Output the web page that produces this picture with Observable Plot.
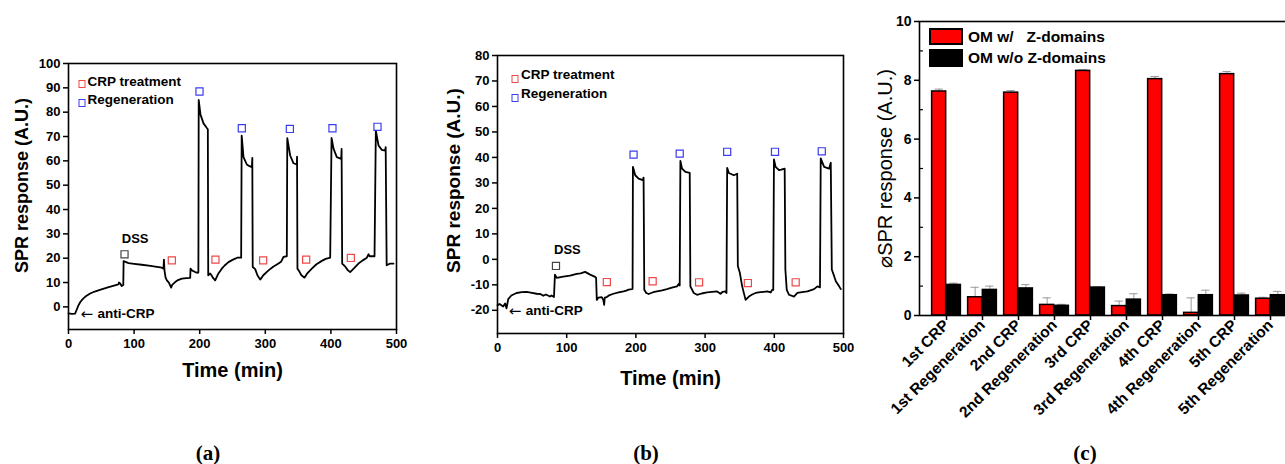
<!DOCTYPE html>
<html><head><meta charset="utf-8">
<script src="https://cdn.jsdelivr.net/npm/d3@7"></script>
<script src="https://cdn.jsdelivr.net/npm/@observablehq/plot@0.6"></script>
<style>
body{margin:0;background:#fff;overflow:hidden;font-family:"Liberation Sans",Arial,sans-serif;}
#wrap{position:relative;width:1285px;height:464px;overflow:hidden;background:#fff;}
.panel{position:absolute;top:0;}
.cap{position:absolute;font-family:"Liberation Serif","DejaVu Serif",serif;font-size:21px;font-weight:bold;transform:translate(-50%,-50%);}
.leg{position:absolute;font-weight:bold;font-size:13.5px;white-space:pre;transform:translateY(-50%);line-height:1;}
.sq{position:absolute;width:7px;height:8px;border:1.2px solid;box-sizing:border-box;transform:translate(-50%,-50%);}
.sw{position:absolute;width:34px;border:2px solid #000;box-sizing:border-box;}
.legc{position:absolute;font-weight:bold;font-size:15.5px;white-space:pre;transform:translateY(-50%);line-height:1;}
</style></head><body><div id="wrap"></div>
<script>
// ---------- Panel (a) data: SPR trace [time (min), response (A.U.)] ----------
const traceA = [[0,-2.7],[5,-2.9],[10,-2.8],[12,-1.5],[15,0.5],[18,2],[22,3.3],[27,4.5],[33,5.5],[40,6.3],[49,7.1],[60,8],[72,8.9],[76,9.2],[77,10],[79,9.5],[81,8.6],[83.5,9],[84,18.8],[86,18.6],[91.5,18],[100,17.7],[111.8,17.3],[125,16.8],[142.3,16.1],[144.8,15.7],[145.5,19.4],[146.3,15],[148,12],[150,10.9],[153,10],[156.5,7.9],[158,9],[162.6,10.2],[167,11],[172.8,11.6],[180,11.8],[185.5,11.9],[186,15.7],[188,15],[193.1,14.3],[197.2,14],[198,14.2],[198.5,85],[201.2,79],[205.8,75.4],[210.9,73.5],[212.4,73],[213,13],[216,13.7],[218,13],[220,12],[223.6,10.9],[228,13.5],[233.7,15.7],[238,17],[243.9,18.4],[250,19.3],[254.1,19.8],[257,20.2],[263.2,20.2],[264,70.4],[266.8,61.5],[271.8,58.5],[276,57.8],[279.5,57.4],[280.2,61.2],[280.8,16.4],[284.6,15.5],[288,13],[292.2,11.2],[297,13],[304.9,15],[312,16.5],[320.1,17.8],[324,18.5],[327.7,20.5],[332.8,20.8],[333.5,69.3],[337.9,62.2],[343,59],[348,58.5],[348.4,61.7],[349,15.7],[352,14.5],[355,13],[359.8,12],[364,13.8],[370.9,15.7],[378,17.5],[386.2,18.9],[392,19.7],[398.9,20.2],[401,69.4],[404,65],[409,61.5],[415.7,60.8],[416.3,64.9],[417.2,17.8],[422,16.5],[426,15],[429.4,14.3],[435,15.8],[442,17.8],[448,19],[454.8,20.2],[457.3,21.6],[459,20.8],[466.5,20.8],[468.5,72.4],[472.6,66.3],[477.6,64.5],[482.7,64.2],[483.5,65.6],[485,17.1],[490.3,17.8],[495.4,17.8]];
const dssA = [[85.4,21.6]];
const crpA = [[157.5,19.1],[224,19.4],[296.7,19.1],[362.3,19.4],[430.4,20.1]];
const regA = [[199.7,88.5],[264.2,73.4],[337.4,73.1],[402.4,73.4],[471,74]];
const dssLabelA = [[101.6,28,"DSS"]];
const antiLabelA = [[18.3,-2.6,"anti-CRP"]];

// ---------- Panel (b) data ----------
const traceB = [[0,-18],[3,-17.5],[8.2,-18.5],[11,-17.3],[13,-19.2],[15.5,-15.6],[20,-14.2],[27.5,-13.2],[35,-12.9],[42,-12.8],[50,-13.2],[56.5,-13.5],[62,-13.6],[66.2,-14.3],[70,-13.8],[75.8,-14.6],[78,-14.2],[81.6,-14.8],[83,-6],[85.5,-7.3],[95,-6.8],[104.8,-6.4],[114.5,-5.7],[120,-5.5],[126.6,-4.9],[130,-5.4],[133.8,-6],[141.1,-6.9],[142.5,-7.3],[143.5,-15.9],[145.9,-15],[150.7,-14.8],[153,-16],[154.1,-17.9],[155,-15],[158,-14.8],[162,-14],[167.6,-13.5],[175,-13],[182.1,-12.6],[186,-12.3],[189.4,-11.9],[194.2,-11.7],[195.2,-11.5],[195.7,36.3],[199,33],[203.9,31.7],[210.1,31.1],[211.1,32.1],[212.1,-11.9],[215,-13.2],[218.4,-13.6],[225,-12.9],[230.4,-12.6],[238,-12.2],[244.9,-11.7],[252,-11.1],[259.4,-10.6],[261.8,-9.7],[263.3,-10.3],[264.3,38.6],[266.7,35.6],[271.5,34.3],[277.8,33.9],[278.7,-10.6],[283.6,-13.2],[288.4,-13.9],[295,-13.4],[302.9,-13],[310,-12.8],[317.4,-12.6],[322.2,-13.5],[325,-12.8],[329.5,-12.6],[330.9,-13.2],[331.9,35.9],[334.3,33.9],[341.5,33],[346.4,33.6],[347.3,-2.6],[350.2,-5.3],[353.6,-10.6],[358.5,-15.9],[363.3,-14.6],[368,-13.8],[372.9,-13.2],[380,-12.9],[389.9,-12.6],[394.7,-13],[397.1,-11.9],[398.5,-12],[399.5,39.2],[401.9,36.3],[406.8,35],[410,35.2],[415,35.6],[416,-4],[418,-12],[421.3,-13.9],[428.5,-14.6],[433.3,-13.2],[440,-12.9],[447.8,-12.6],[457.5,-11.7],[462.3,-10.6],[466,-11],[467.1,39.6],[472,36.3],[479.2,35.6],[481.6,37.9],[483.1,-4],[486.5,-6.6],[488.9,-8.6],[493.7,-10.6],[496.1,-11.7]];
const dssB = [[84.5,-2.6]];
const crpB = [[158,-8.9],[224.2,-8.6],[291.3,-9],[361.8,-9.3],[430.9,-9]];
const regB = [[196.6,41.1],[263.3,41.5],[331.9,42.2],[401,42.2],[468.6,42.4]];
const dssLabelB = [[101,3.8,"DSS"]];
const antiLabelB = [[16.4,-20.3,"anti-CRP"]];

// ---------- Panel (c) data ----------
const cats = ["1st CRP","1st Regeneration","2nd CRP","2nd Regeneration","3rd CRP","3rd Regeneration","4th CRP","4th Regeneration","5th CRP","5th Regeneration"];
const withZ = [7.62,0.62,7.58,0.36,8.32,0.32,8.04,0.09,8.21,0.57];
const withZErr = [0.08,0.34,0.07,0.24,0.04,0.17,0.09,0.51,0.09,0.05];
const withoutZ = [1.04,0.87,0.92,0.33,0.95,0.54,0.69,0.69,0.68,0.69];
const withoutZErr = [0.06,0.13,0.13,0.05,0.02,0.2,0.04,0.17,0.08,0.13];
const seriesNames = ["OM w/   Z-domains","OM w/o Z-domains"];

const xTicksAB = [0,100,200,300,400,500];
const yTicksA = d3.range(0,101,10);
const yTicksB = d3.range(-20,81,10);
const yTicksC = [0,2,4,6,8,10];
const yMinorC = [1,3,5,7,9];

const FONT = "'Liberation Sans', Arial, sans-serif";
const RED = "#f04848", BLUE = "#3c3cf0", GRAY = "#444";
const wrap = document.getElementById("wrap");
const X = d => d[0], Y = d => d[1];

function tracePanel({trace, dss, crp, reg, dssLabel, antiLabel, yDomain, yTicks, width, height, mL, mR, mT, mB, yLabDx, yLabDy, yLabSize, xLabDy}) {
  return Plot.plot({
    width, height, marginLeft: mL, marginRight: mR, marginTop: mT, marginBottom: mB,
    style: {fontFamily: FONT, color: "#000", background: "transparent", overflow: "visible"},
    x: {domain: [0, 500]},
    y: {domain: yDomain},
    marks: [
      Plot.frame({stroke: "#000", strokeWidth: 1.6}),
      Plot.axisX({ticks: xTicksAB, tickSize: 5, tickPadding: 4, fontSize: 13, fontWeight: "bold", strokeWidth: 1.5, label: null, tickFormat: d => String(d)}),
      Plot.axisY({ticks: yTicks, tickSize: 5, tickPadding: 3, fontSize: 13, fontWeight: "bold", strokeWidth: 1.5, label: null, tickFormat: d => String(d)}),
      Plot.line(trace, {x: X, y: Y, stroke: "#000", strokeWidth: 1.8, strokeLinejoin: "round"}),
      Plot.dot(dss, {x: X, y: Y, symbol: "square", r: 4, stroke: GRAY, fill: "none", strokeWidth: 1.2}),
      Plot.dot(crp, {x: X, y: Y, symbol: "square", r: 4, stroke: RED, fill: "none", strokeWidth: 1.2}),
      Plot.dot(reg, {x: X, y: Y, symbol: "square", r: 4, stroke: BLUE, fill: "none", strokeWidth: 1.2}),
      Plot.text(dssLabel, {x: X, y: Y, text: d => d[2], fontSize: 13, fontWeight: "bold"}),
      Plot.text(antiLabel, {x: X, y: Y, text: () => "\u2190", fontSize: 15, fontFamily: "DejaVu Sans", textAnchor: "start", dy: 0.5}),
      Plot.text(antiLabel, {x: X, y: Y, text: d => d[2], fontSize: 13.5, fontWeight: "bold", textAnchor: "start", dx: 17}),
      Plot.text(["Time (min)"], {frameAnchor: "bottom", dy: xLabDy, fontSize: 20, fontWeight: "bold", lineAnchor: "middle", textAnchor: "middle"}),
      Plot.text(["SPR response (A.U.)"], {frameAnchor: "left", dx: yLabDx, dy: yLabDy, rotate: -90, fontSize: yLabSize, fontWeight: "bold", lineAnchor: "middle", textAnchor: "middle"})
    ]
  });
}

const pa = tracePanel({trace: traceA, dss: dssA, crp: crpA, reg: regA, dssLabel: dssLabelA, antiLabel: antiLabelA,
  yDomain: [-9.3, 100], yTicks: yTicksA, width: 430, height: 400, mL: 68, mR: 34, mT: 63, mB: 71, yLabDx: -46, yLabDy: -11, yLabSize: 18, xLabDy: 41});
pa.classList.add("panel"); pa.style.left = "0px";
wrap.appendChild(pa);

const pb = tracePanel({trace: traceB, dss: dssB, crp: crpB, reg: regB, dssLabel: dssLabelB, antiLabel: antiLabelB,
  yDomain: [-29.1, 80], yTicks: yTicksB, width: 430, height: 400, mL: 67, mR: 17, mT: 55, mB: 67, yLabDx: -44, yLabDy: -14, yLabSize: 19, xLabDy: 45});
pb.classList.add("panel"); pb.style.left = "430px";
wrap.appendChild(pb);

// Panel (c)
const rowsC = cats.map((c, i) => ({cat: c, w: withZ[i], we: withZErr[i], wo: withoutZ[i], woe: withoutZErr[i]}));
const W = 460, mLc = 59, mRc = 23, PO = 0.156;
const step = (W - mLc - mRc) / (cats.length + 2 * PO);
const half = step / 2, barW = 14.7, capW = 9;
const pc = Plot.plot({
  width: W, height: 400, marginLeft: mLc, marginRight: mRc, marginTop: 21, marginBottom: 85,
  style: {fontFamily: FONT, color: "#000", background: "transparent", overflow: "visible"},
  x: {domain: cats, paddingInner: 0, paddingOuter: PO},
  y: {domain: [0, 10]},
  marks: [
    Plot.ruleX(rowsC, {x: "cat", y1: "w", y2: d => d.w + d.we, dx: -barW / 2, stroke: "#9a9a9a", strokeWidth: 1}),
    Plot.tickY(rowsC, {x: "cat", y: d => d.w + d.we, insetLeft: half - barW / 2 - capW / 2, insetRight: half + barW / 2 - capW / 2, stroke: "#9a9a9a", strokeWidth: 1}),
    Plot.ruleX(rowsC, {x: "cat", y1: "wo", y2: d => d.wo + d.woe, dx: barW / 2, stroke: "#9a9a9a", strokeWidth: 1}),
    Plot.tickY(rowsC, {x: "cat", y: d => d.wo + d.woe, insetLeft: half + barW / 2 - capW / 2, insetRight: half - barW / 2 - capW / 2, stroke: "#9a9a9a", strokeWidth: 1}),
    Plot.barY(rowsC, {x: "cat", y: "w", fill: "#ff0000", stroke: "#000", strokeWidth: 1.5, insetLeft: half - barW, insetRight: half}),
    Plot.barY(rowsC, {x: "cat", y: "wo", fill: "#000", stroke: "#000", strokeWidth: 1.5, insetLeft: half, insetRight: half - barW}),
    Plot.frame({stroke: "#000", strokeWidth: 1.6}),
    Plot.axisY({ticks: yTicksC, tickSize: 5, tickPadding: 3, fontSize: 14, fontWeight: "bold", strokeWidth: 1.5, label: null}),
    Plot.axisY({ticks: yMinorC, tickSize: -4, tickFormat: () => "", strokeWidth: 1.2, label: null}),
    Plot.axisX({tickRotate: -45, tickSize: 5, tickPadding: 2, fontSize: 15.5, fontWeight: "bold", strokeWidth: 1.5, label: null}),
    Plot.text(["\u2300SPR response (A.U.)"], {frameAnchor: "left", dx: -34, rotate: -90, fontSize: 20, lineAnchor: "middle", textAnchor: "middle"})
  ]
});
pc.classList.add("panel"); pc.style.left = "860px";
wrap.appendChild(pc);

// Legends and captions (HTML)
function add(cls, css, text) {
  const e = document.createElement("div");
  e.className = cls;
  Object.assign(e.style, css);
  if (text !== undefined) e.textContent = text;
  wrap.appendChild(e);
  return e;
}
// legend (a)
add("sq", {left: "81.7px", top: "83.5px", borderColor: RED});
add("leg", {left: "87.5px", top: "81.5px"}, "CRP treatment");
add("sq", {left: "81.7px", top: "102.5px", borderColor: BLUE});
add("leg", {left: "87.5px", top: "99.5px"}, "Regeneration");
// legend (b)
add("sq", {left: "515px", top: "78.5px", borderColor: RED});
add("leg", {left: "521px", top: "75px"}, "CRP treatment");
add("sq", {left: "515px", top: "97.5px", borderColor: BLUE});
add("leg", {left: "521px", top: "94.3px"}, "Regeneration");
// legend (c)
add("sw", {left: "929px", top: "28px", height: "17px", background: "#ff0000"});
add("legc", {left: "968px", top: "36.5px"}, seriesNames[0]);
add("sw", {left: "929px", top: "49px", height: "18px", background: "#000"});
add("legc", {left: "968px", top: "57.5px"}, seriesNames[1]);
// captions
add("cap", {left: "208px", top: "452.5px"}, "(a)");
add("cap", {left: "646px", top: "452.5px"}, "(b)");
add("cap", {left: "1085px", top: "452.5px"}, "(c)");
</script></body></html>
